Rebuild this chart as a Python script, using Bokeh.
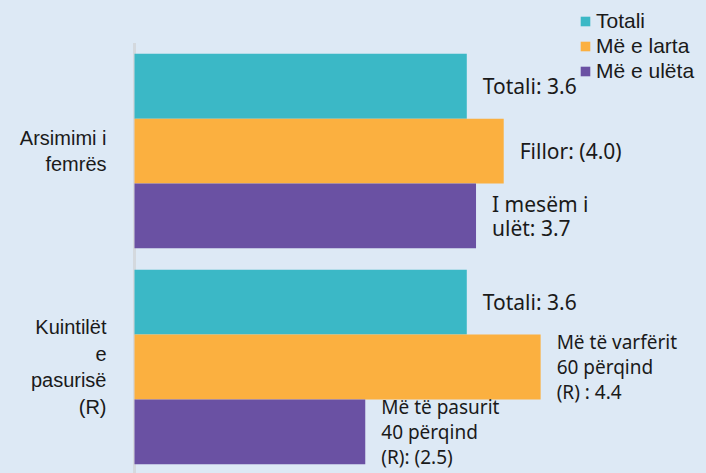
from bokeh.plotting import figure
from bokeh.models import (Legend, LegendItem, ColumnDataSource, Range1d, FixedTicker,
                          CDSView, IndexFilter)
from bokeh.transform import dodge
from bokeh.core.properties import value
from bokeh.embed import file_html
from bokeh.resources import INLINE

# ---- data ----
categories = ["Arsimimi i\nfemrës", "Kuintilët\ne\npasurisë\n(R)"]
series_names = ["Totali", "Më e larta", "Më e ulëta"]
totali = [3.6, 3.6]
me_e_larta = [4.0, 4.4]
me_e_uleta = [3.7, 2.5]
labels_totali = ["Totali: 3.6", "Totali: 3.6"]
labels_larta = ["Fillor: (4.0)", "Më të varfërit\n60 përqind\n(R) : 4.4"]
labels_uleta = ["I mesëm i\nulët: 3.7", "Më të pasurit\n40 përqind\n(R): (2.5)"]

BG = "#dde9f5"
COLORS = ["#3bb8c6", "#fbb040", "#6a51a3"]
BAR_H = 0.3

n = len(categories)
# first category on top
pos = [n - 1 - i for i in range(n)]

p = figure(
    width=706, height=473,
    y_range=Range1d(-0.493, 1.697),
    x_range=Range1d(-0.0217, 6.197),
    output_backend="svg", toolbar_location=None,
    min_border_left=132, min_border_top=0, min_border_bottom=0, min_border_right=0,
)
p.background_fill_color = BG
p.border_fill_color = BG
p.outline_line_color = None
p.grid.visible = False
p.xaxis.visible = False

yax = p.yaxis[0]
yax.ticker = FixedTicker(ticks=pos)
yax.major_tick_line_color = None
yax.minor_tick_line_color = None
yax.axis_line_color = None
yax.major_label_overrides = {y: c for y, c in zip(pos, categories)}
yax.major_label_text_font = "Liberation Sans"
yax.major_label_text_font_size = "20px"
yax.major_label_text_color = "#1a1a1a"
yax.major_label_text_align = "center"
yax.major_label_standoff = 20

# category axis baseline, spanning the category bands
p.segment(x0=0, x1=0, y0=min(pos) - 0.5, y1=max(pos) + 0.5,
          line_color="#d4d9de", line_width=3)

offsets = [BAR_H, 0.0, -BAR_H]
all_values = [totali, me_e_larta, me_e_uleta]
all_labels = [labels_totali, labels_larta, labels_uleta]
items = []
for name, vals, labs, off, col in zip(series_names, all_values, all_labels, offsets, COLORS):
    sizes = ["19px" if l.count("\n") >= 2 else "21px" for l in labs]
    src = ColumnDataSource(dict(pos=pos, val=vals, lab=labs, size=sizes))
    r = p.hbar(y=dodge("pos", off), right="val", left=0, height=BAR_H,
               source=src, fill_color=col, line_color=None)
    for i, l in enumerate(labs):
        lh = 0.97 if l.count("\n") >= 2 else 0.88
        p.text(x="val", y=dodge("pos", off), text="lab", source=src,
               view=CDSView(filter=IndexFilter([i])),
               x_offset=16, text_baseline="middle", text_align="left",
               text_font=value("Noto Sans"), text_font_size="size",
               text_color="#1a1a1a", text_line_height=lh)
    items.append(LegendItem(label=name, renderers=[r]))

legend = Legend(items=items, location=(447, 390))
legend.background_fill_alpha = 0
legend.border_line_color = None
legend.padding = 0
legend.margin = 0
legend.spacing = 0
legend.label_standoff = 5
legend.glyph_width = 12
legend.glyph_height = 12
legend.label_height = 25
legend.label_text_font = "Liberation Sans"
legend.label_text_font_size = "21px"
legend.label_text_color = "#1a1a1a"
p.add_layout(legend)

html = file_html(p, INLINE)
html = html.replace("</head>", "<style>html, body { background-color: %s !important; }</style>\n</head>" % BG, 1)
open("out.html", "w").write(html)
